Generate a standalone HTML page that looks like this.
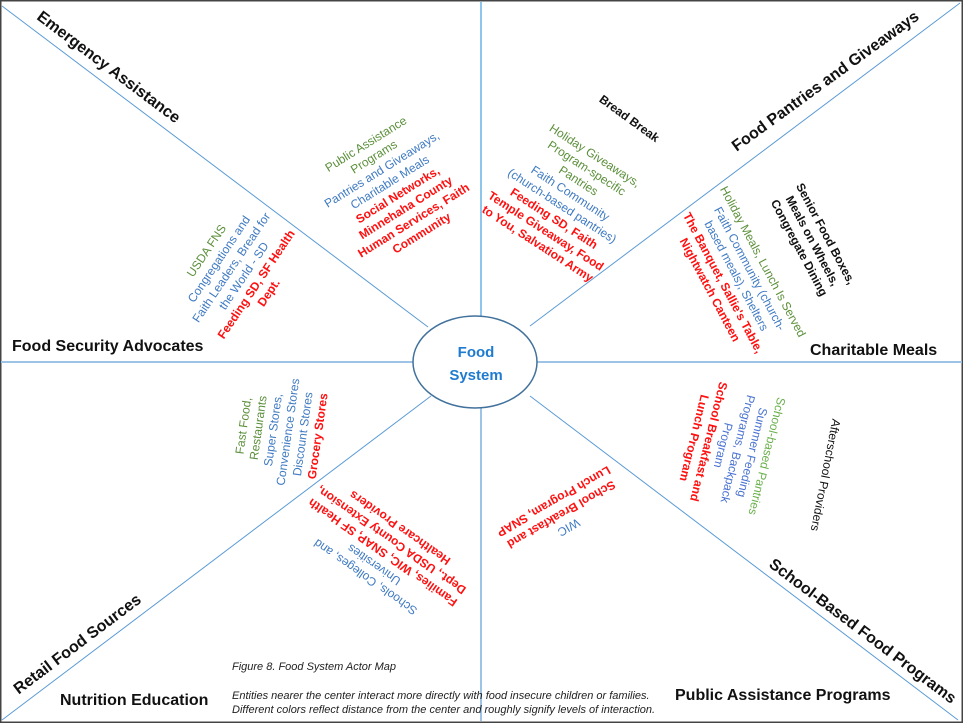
<!DOCTYPE html>
<html><head><meta charset="utf-8"><style>
html,body{margin:0;padding:0;background:#fff;}
#c{position:relative;width:963px;height:723px;overflow:hidden;font-family:"Liberation Sans",sans-serif;}
.r{position:absolute;white-space:nowrap;text-align:center;transform-origin:center;line-height:15px;font-size:12px;}
.t{position:absolute;white-space:nowrap;font-weight:bold;font-size:16px;color:#111;}
.g{color:#5b8f3a;}.b{color:#3f7ac2;}.rd{color:#ff1010;font-weight:bold;}.k{color:#111;font-weight:bold;}
.cap{position:absolute;font-style:italic;font-size:11px;color:#222;white-space:nowrap;line-height:14px;}
</style></head><body><div id="c">
<svg width="963" height="723" style="position:absolute;left:0;top:0">
<rect x="0.5" y="0.5" width="962" height="722" fill="none" stroke="#444" stroke-width="2"/>
<line x1="481" y1="2" x2="481" y2="318" stroke="#8ec5ec" stroke-width="2"/>
<line x1="481" y1="406" x2="481" y2="721" stroke="#9dc3e6" stroke-width="2"/>
<line x1="1" y1="362" x2="413" y2="362" stroke="#9dc3e6" stroke-width="2"/>
<line x1="537" y1="362" x2="962" y2="362" stroke="#9dc3e6" stroke-width="2"/>
<line x1="2" y1="6" x2="428" y2="327" stroke="#5b9bd5" stroke-width="1"/>
<line x1="960" y1="3" x2="530" y2="326" stroke="#5b9bd5" stroke-width="1"/>
<line x1="431" y1="396" x2="2" y2="720" stroke="#5b9bd5" stroke-width="1"/>
<line x1="530" y1="396" x2="958" y2="720" stroke="#5b9bd5" stroke-width="1"/>
<ellipse cx="475" cy="362" rx="62" ry="46" fill="#fff" stroke="#41719c" stroke-width="1.5"/>
</svg>
<div class="t" style="left:476px;top:341px;transform:translate(-50%,0);color:#1f7bd0;text-align:center;line-height:23px;font-size:15px">Food<br>System</div>

<div class="t" style="left:108px;top:68px;transform:translate(-50%,-50%) rotate(37deg)">Emergency Assistance</div>
<div class="t" style="left:826px;top:82px;transform:translate(-50%,-50%) rotate(-36deg)">Food Pantries and Giveaways</div>
<div class="t" style="left:78px;top:645px;transform:translate(-50%,-50%) rotate(-37deg)">Retail Food Sources</div>
<div class="t" style="left:862px;top:632px;transform:translate(-50%,-50%) rotate(37deg)">School-Based Food Programs</div>
<div class="t" style="left:12px;top:338px">Food Security Advocates</div>
<div class="t" style="left:810px;top:342px">Charitable Meals</div>
<div class="t" style="left:60px;top:692px">Nutrition Education</div>
<div class="t" style="left:675px;top:687px">Public Assistance Programs</div>

<div class="r" style="left:394px;top:189px;transform:translate(-50%,-50%) rotate(-32deg)"><span class="g">Public Assistance<br>Programs</span><br><span class="b">Pantries and Giveaways,<br>Charitable Meals</span><br><span class="rd">Social Networks,<br>Minnehaha County<br>Human Services, Faith<br>Community</span></div>
<div class="r" style="left:238px;top:272px;transform:translate(-50%,-50%) rotate(-56deg)"><span class="g">USDA FNS</span><br><span class="b">Congregations and<br>Faith Leaders, Bread for<br>the World - SD</span><br><span class="rd">Feeding SD, SF Health<br>Dept.</span></div>
<div class="r k" style="left:629px;top:119px;transform:translate(-50%,-50%) rotate(36deg)">Bread Break</div>
<div class="r" style="left:566px;top:200px;transform:translate(-50%,-50%) rotate(33deg)"><span class="g">Holiday Giveaways,<br>Program-specific<br>Pantries</span><br><span class="b">Faith Community<br>(church-based pantries)</span><br><span class="rd">Feeding SD, Faith<br>Temple Giveaway, Food<br>to You, Salvation Army</span></div>
<div class="r" style="left:736px;top:276px;transform:translate(-50%,-50%) rotate(62deg)"><span class="g">Holiday Meals, Lunch Is Served</span><br><span class="b">Faith Community (church-<br>based meals), Shelters</span><br><span class="rd">The Banquet, Sallie's Table,<br>Nightwatch Canteen</span></div>
<div class="r k" style="left:812px;top:241px;transform:translate(-50%,-50%) rotate(62deg)">Senior Food Boxes,<br>Meals on Wheels,<br>Congregate Dining</div>
<div class="r" style="left:281px;top:431px;transform:translate(-50%,-50%) rotate(-82deg)"><span class="g">Fast Food,<br>Restaurants</span><br><span class="b">Super Stores,<br>Convenience Stores<br>Discount Stores</span><br><span class="rd">Grocery Stores</span></div>
<div class="r" style="left:383px;top:552px;transform:translate(-50%,-50%) rotate(215deg)"><span class="b">Schools, Colleges, and<br>Universities</span><br><span class="rd">Families, WIC, SNAP, SF Health<br>Dept., USDA County Extension,<br>Healthcare Providers</span></div>
<div class="r" style="left:561px;top:514px;transform:translate(-50%,-50%) rotate(150deg)"><span class="b">WIC</span><br><span class="rd">School Breakfast and<br>Lunch Program, SNAP</span></div>
<div class="r" style="left:730px;top:447px;transform:translate(-50%,-50%) rotate(104deg)"><span class="g" style="color:#6ab04c">School-based Pantries</span><br><span class="b" style="color:#4a73d0">Summer Feeding<br>Programs, Backpack<br>Program</span><br><span class="rd">School Breakfast and<br>Lunch Program</span></div>
<div class="r k" style="left:825px;top:475px;transform:translate(-50%,-50%) rotate(101deg);font-weight:normal">Afterschool Providers</div>

<div class="cap" style="left:232px;top:660px">Figure 8. Food System Actor Map</div>
<div class="cap" style="left:232px;top:689px">Entities nearer the center interact more directly with food insecure children or families.<br>Different colors reflect distance from the center and roughly signify levels of interaction.</div>
</div></body></html>
